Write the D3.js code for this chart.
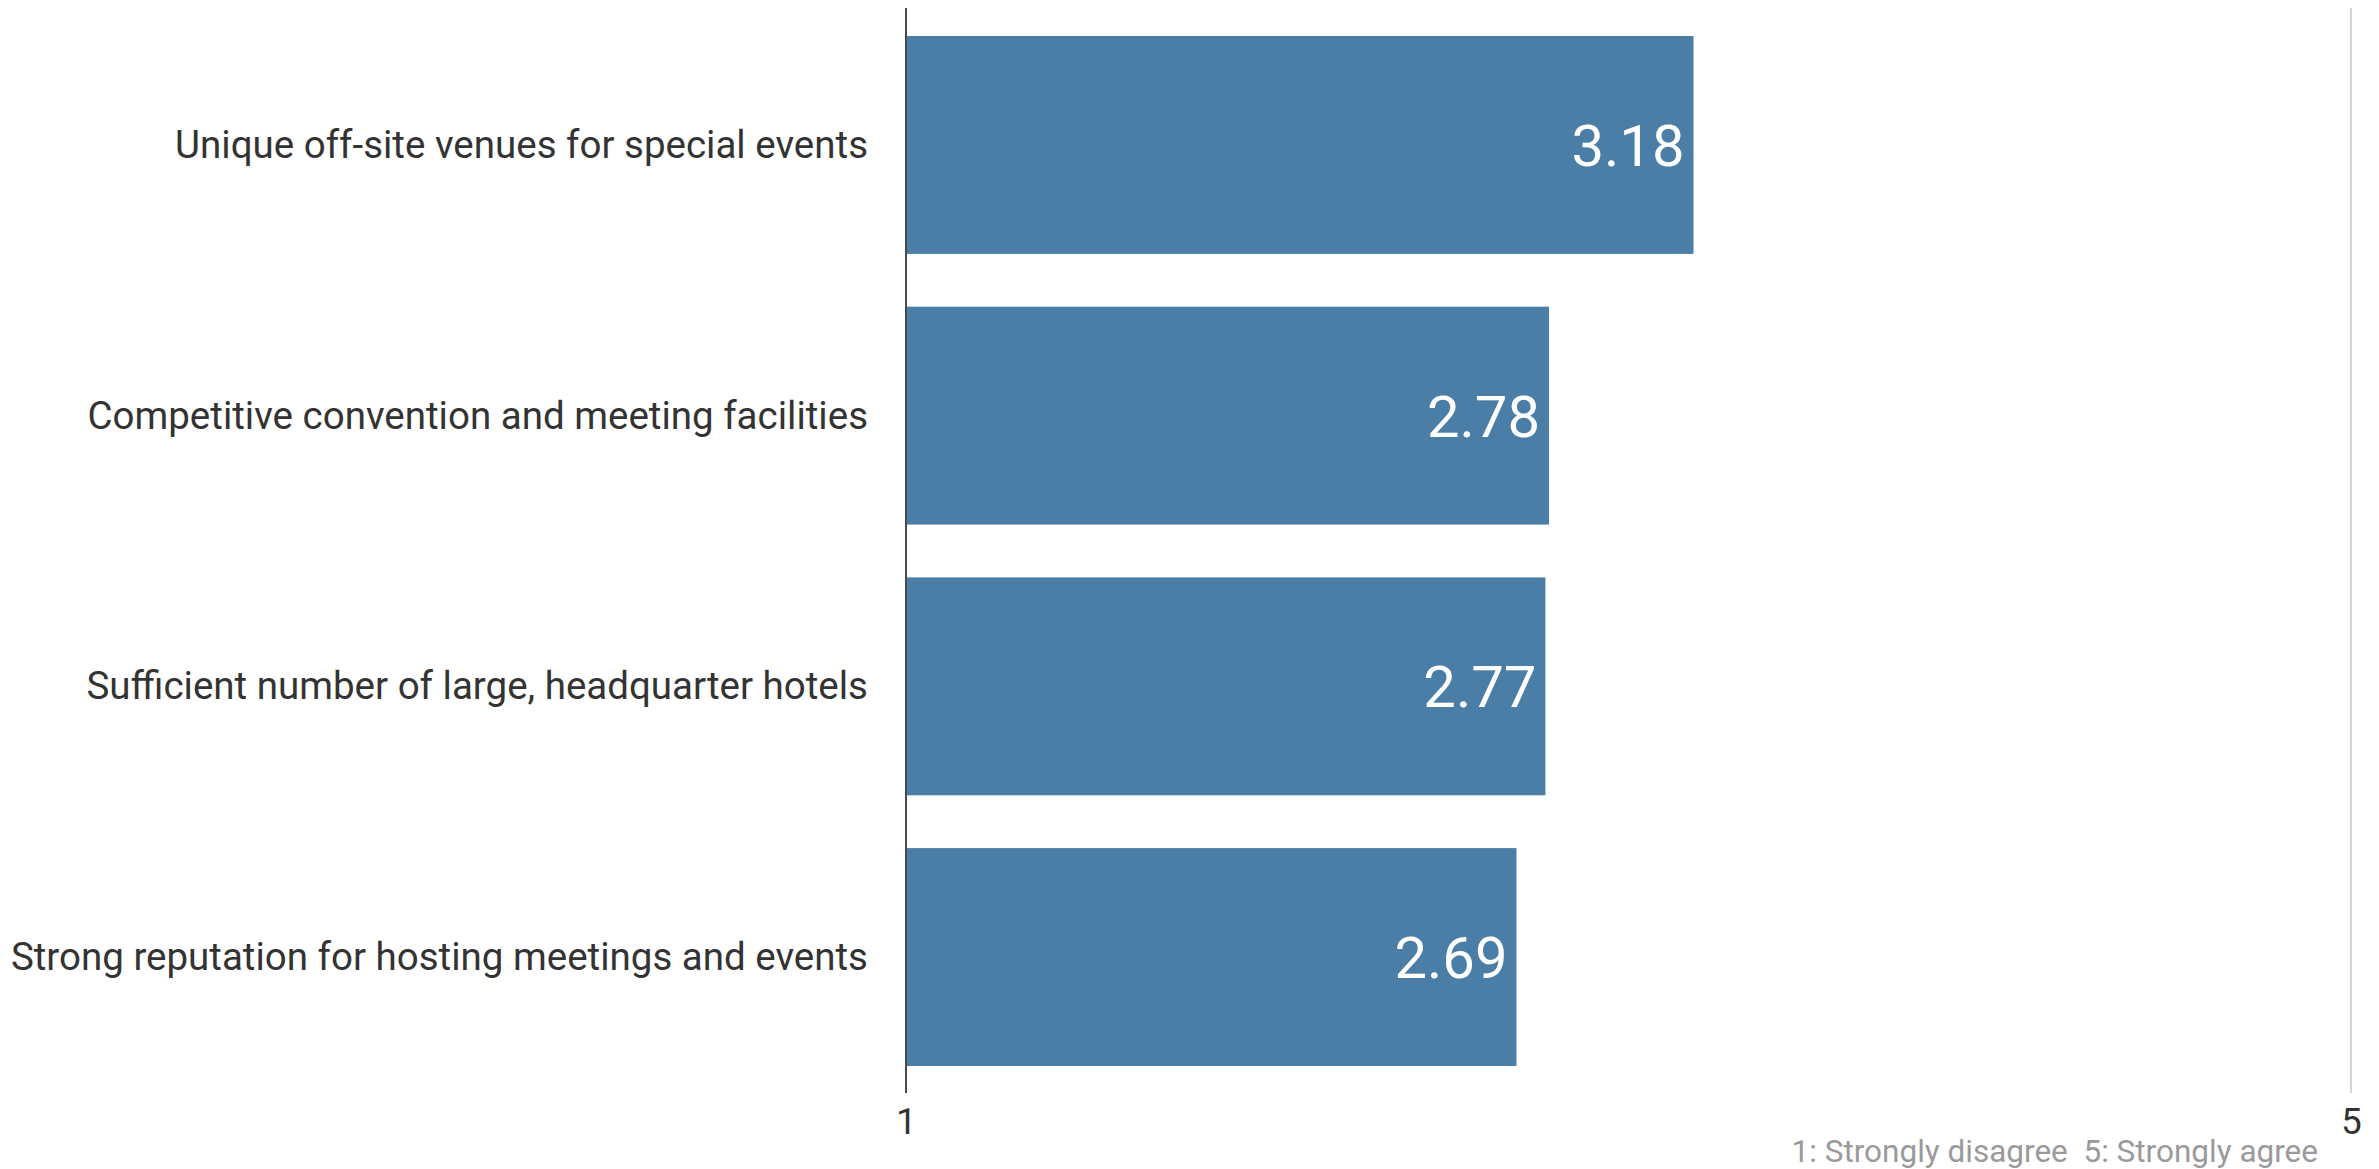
<!DOCTYPE html>
<html>
<head>
<meta charset="utf-8">
<script src="https://cdn.jsdelivr.net/npm/d3@7/dist/d3.min.js"></script>
<style>
  html, body { margin: 0; padding: 0; background: #ffffff; }
  svg { display: block; }
  text { font-family: Roboto, "Noto Sans", sans-serif; }
</style>
</head>
<body>
<svg id="chart" width="2379" height="1169"></svg>
<script>
// Survey statements and their mean agreement scores (1–5 scale)
const categories = [
  "Unique off-site venues for special events",
  "Competitive convention and meeting facilities",
  "Sufficient number of large, headquarter hotels",
  "Strong reputation for hosting meetings and events"
];
const scores = [3.18, 2.78, 2.77, 2.69];
const tickValues = [1, 5];
const scaleNote = "1: Strongly disagree  5: Strongly agree";

const svg = d3.select("#chart");

const x = d3.scaleLinear().domain([1, 5]).range([906, 2351]);
const y = d3.scaleBand().domain(categories).range([36, 1066])
  .paddingInner(0.195).paddingOuter(0);

const lineTop = 8, lineBottom = 1093;

// Light reference line at the top of the scale
svg.append("line")
  .attr("x1", x(5)).attr("x2", x(5))
  .attr("y1", lineTop).attr("y2", lineBottom)
  .attr("stroke", "#d6d6d6").attr("stroke-width", 2);

// Bars
svg.append("g").selectAll("rect")
  .data(categories)
  .join("rect")
  .attr("x", x(1))
  .attr("y", d => y(d))
  .attr("width", (d, i) => x(scores[i]) - x(1))
  .attr("height", y.bandwidth())
  .attr("fill", "#4b7ea7");

// Baseline axis at score 1
svg.append("line")
  .attr("x1", x(1)).attr("x2", x(1))
  .attr("y1", lineTop).attr("y2", lineBottom)
  .attr("stroke", "#4a4a4a").attr("stroke-width", 2);

// Value labels inside the bar ends
svg.append("g").selectAll("text")
  .data(categories)
  .join("text")
  .attr("x", (d, i) => x(scores[i]) - 9)
  .attr("y", d => y(d) + y.bandwidth() / 2)
  .attr("dy", "0.36em")
  .attr("text-anchor", "end")
  .attr("fill", "#ffffff")
  .attr("font-size", 58)
  .text((d, i) => scores[i].toFixed(2));

// Category labels
svg.append("g").selectAll("text")
  .data(categories)
  .join("text")
  .attr("x", 868)
  .attr("y", d => y(d) + y.bandwidth() / 2)
  .attr("dy", "0.34em")
  .attr("text-anchor", "end")
  .attr("fill", "#333333")
  .attr("font-size", 38.5)
  .text(d => d);

// Scale end labels
const xAxis = d3.axisBottom(x).tickValues(tickValues).tickSize(0).tickPadding(0)
  .tickFormat(d3.format("d"));
const axisG = svg.append("g")
  .attr("transform", `translate(0, ${lineBottom})`)
  .call(xAxis);
axisG.select(".domain").remove();
axisG.selectAll("text")
  .attr("y", 41)
  .attr("dy", null)
  .attr("font-size", 37)
  .attr("font-family", "Roboto, sans-serif")
  .attr("fill", "#333333");

// Scale legend note
svg.append("text")
  .attr("x", 2318)
  .attr("y", 1162)
  .attr("text-anchor", "end")
  .attr("fill", "#9a9a9a")
  .attr("font-size", 31.5)
  .style("white-space", "pre")
  .text(scaleNote);
</script>
</body>
</html>
